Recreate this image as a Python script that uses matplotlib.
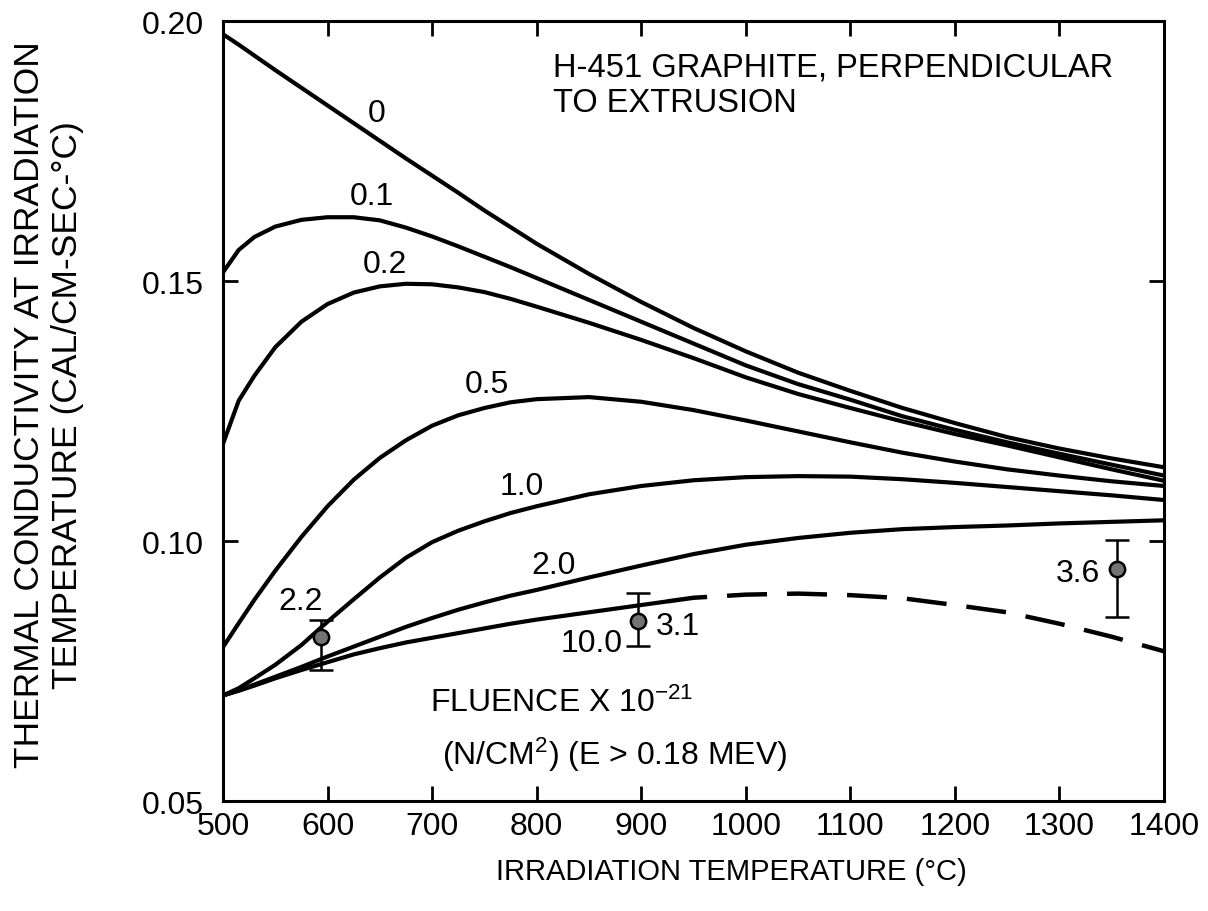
import matplotlib
matplotlib.use('Agg')
import matplotlib.pyplot as plt

plt.rcParams['font.family'] = ['Liberation Sans', 'DejaVu Sans']
plt.rcParams['mathtext.fontset'] = 'custom'
plt.rcParams['mathtext.rm'] = 'Liberation Sans'
plt.rcParams['mathtext.it'] = 'Liberation Sans'
plt.rcParams['mathtext.default'] = 'regular'

# irradiation temperature (deg C)
temp = [500, 515, 530, 550, 575, 600, 625, 650, 675, 700, 725, 750, 775, 800,
        850, 900, 950, 1000, 1050, 1100, 1150, 1200, 1250, 1300, 1350, 1400]

# thermal conductivity (cal/cm-sec-C), one list per fluence x 10^-21
k_0 = [0.1975, 0.1955, 0.1934, 0.1906, 0.1872, 0.1838, 0.1804, 0.1770, 0.1736,
       0.1703, 0.1670, 0.1636, 0.1604, 0.1572, 0.1514, 0.1460, 0.1410, 0.1365,
       0.1324, 0.1289, 0.1256, 0.1227, 0.1200, 0.1178, 0.1159, 0.1142]
k_01 = [0.1517, 0.1560, 0.1585, 0.1605, 0.1618, 0.1623, 0.1623, 0.1617, 0.1603,
        0.1586, 0.1567, 0.1547, 0.1527, 0.1506, 0.1464, 0.1422, 0.1380, 0.1338,
        0.1302, 0.1272, 0.1240, 0.1214, 0.1190, 0.1168, 0.1147, 0.1126]
k_02 = [0.1187, 0.1270, 0.1318, 0.1373, 0.1422, 0.1456, 0.1478, 0.1490, 0.1495,
        0.1494, 0.1488, 0.1479, 0.1466, 0.1451, 0.1420, 0.1387, 0.1352, 0.1315,
        0.1283, 0.1256, 0.1230, 0.1206, 0.1184, 0.1161, 0.1138, 0.1116]
k_05 = [0.0796, 0.0842, 0.0887, 0.0943, 0.1008, 0.1067, 0.1118, 0.1160, 0.1194,
        0.1222, 0.1242, 0.1256, 0.1267, 0.1273, 0.1277, 0.1268, 0.1252, 0.1232,
        0.1211, 0.1190, 0.1170, 0.1153, 0.1138, 0.1126, 0.1115, 0.1106]
k_10 = [0.0703, 0.0717, 0.0736, 0.0762, 0.0800, 0.0845, 0.0888, 0.0930, 0.0968,
        0.0998, 0.1020, 0.1038, 0.1054, 0.1067, 0.1090, 0.1106, 0.1117, 0.1123,
        0.1125, 0.1124, 0.1119, 0.1112, 0.1104, 0.1096, 0.1088, 0.1079]
k_20 = [0.0703, 0.0713, 0.0724, 0.0739, 0.0758, 0.0778, 0.0797, 0.0816, 0.0835,
        0.0852, 0.0868, 0.0882, 0.0895, 0.0906, 0.0930, 0.0953, 0.0975, 0.0993,
        0.1006, 0.1016, 0.1023, 0.1027, 0.1030, 0.1034, 0.1037, 0.1040]

# fluence 10.0: measured part (solid) and extrapolation (dashed)
temp_100 = [500, 515, 530, 550, 575, 600, 625, 650, 675, 700, 725, 750, 775,
            800, 850, 900, 925]
k_100 = [0.0703, 0.0712, 0.0722, 0.0736, 0.0752, 0.0767, 0.0782, 0.0794, 0.0805,
         0.0814, 0.0823, 0.0832, 0.0841, 0.0849, 0.0863, 0.0877, 0.0884]
temp_100x = [925, 950, 1000, 1050, 1100, 1150, 1200, 1250, 1300, 1350, 1400]
k_100x = [0.0884, 0.0891, 0.0897, 0.0899, 0.0896, 0.0890, 0.0877, 0.0863,
          0.0841, 0.0816, 0.0788]

# measured points with scatter bands
pt_temp = [594, 897, 1355]
pt_k = [0.0815, 0.0847, 0.0946]
pt_lo = [0.0752, 0.0799, 0.0854]
pt_hi = [0.0849, 0.0900, 0.1002]
pt_fluence = ['2.2', '3.1', '3.6']

fig = plt.figure(figsize=(12.08, 9.12), dpi=100)
ax = fig.add_axes([0.1846, 0.1206, 0.779, 0.855])

for k in [k_0, k_01, k_02, k_05, k_10, k_20]:
    ax.plot(temp, k, color='black', lw=3, solid_capstyle='round',
            solid_joinstyle='round')
ax.plot(temp_100, k_100, color='black', lw=3, solid_capstyle='round',
        solid_joinstyle='round')
ax.plot(temp_100x, k_100x, color='black', lw=3.2, dashes=(9, 4.5))

yerr = [[k - lo for k, lo in zip(pt_k, pt_lo)],
        [hi - k for k, hi in zip(pt_k, pt_hi)]]
ax.errorbar(pt_temp, pt_k, yerr=yerr, fmt='o', color='black', ecolor='black',
            elinewidth=1.8, capsize=8.5, capthick=1.8, markersize=11,
            mfc='0.45', mec='black', mew=1.8)

fs = 23
# curve labels (fluence x 10^-21)
ax.text(647, 0.1808, '0', fontsize=fs, ha='center', va='baseline')
ax.text(642, 0.1648, '0.1', fontsize=fs, ha='center', va='baseline')
ax.text(655, 0.1517, '0.2', fontsize=fs, ha='center', va='baseline')
ax.text(752, 0.1286, '0.5', fontsize=fs, ha='center', va='baseline')
ax.text(786, 0.1090, '1.0', fontsize=fs, ha='center', va='baseline')
ax.text(816, 0.0938, '2.0', fontsize=fs, ha='center', va='baseline')
ax.text(853, 0.0789, '10.0', fontsize=fs, ha='center', va='baseline')
ax.text(574, 0.0869, pt_fluence[0], fontsize=fs, ha='center', va='baseline')
ax.text(914, 0.0821, pt_fluence[1], fontsize=fs, ha='left', va='baseline')
ax.text(1339, 0.0924, pt_fluence[2], fontsize=fs, ha='right', va='baseline')

ax.text(816, 0.1895, 'H-451 GRAPHITE, PERPENDICULAR', fontsize=23.5,
        ha='left', va='baseline')
ax.text(816, 0.1827, 'TO EXTRUSION', fontsize=23.5, ha='left', va='baseline')
ax.text(698, 0.0674, r'FLUENCE X 10$^{-21}$', fontsize=fs, ha='left', va='baseline')
ax.text(709, 0.0571, r'(N/CM$^{2}$) (E > 0.18 MEV)', fontsize=fs,
        ha='left', va='baseline')

ax.set_xlim(500, 1400)
ax.set_ylim(0.05, 0.20)
ax.set_xticks(range(500, 1401, 100))
ax.set_yticks([0.05, 0.10, 0.15, 0.20])
ax.set_yticklabels(['0.05', '0.10', '0.15', '0.20'])
ax.tick_params(direction='in', length=11, width=2, top=True, right=True,
               labelsize=fs)
ax.tick_params(axis='x', pad=7)
ax.tick_params(axis='y', pad=14)
for s in ax.spines.values():
    s.set_linewidth(2.2)

ax.set_xlabel('IRRADIATION TEMPERATURE (°C)', fontsize=21, labelpad=12)
ax.xaxis.label.set_x(0.54)
fig.text(0.040, 0.556, 'THERMAL CONDUCTIVITY AT IRRADIATION\nTEMPERATURE (CAL/CM-SEC-°C)',
         rotation=90, fontsize=25.5, ha='center', va='center',
         multialignment='center', linespacing=1.18)

fig.savefig('out.png', dpi=100)
